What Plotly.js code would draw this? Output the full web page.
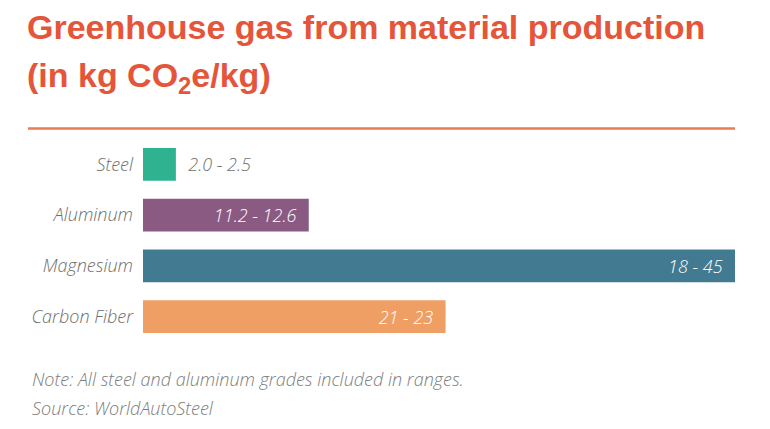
<!DOCTYPE html>
<html>
<head>
<meta charset="utf-8">
<script src="https://cdn.plot.ly/plotly-3.0.1.min.js"></script>
<style>html,body{margin:0;padding:0;background:#fff;}#chart{width:770px;height:429px;}</style>
</head>
<body>
<div id="chart"></div>
<script>
// Data
var materials = ["Steel", "Aluminum", "Magnesium", "Carbon Fiber"];
var highValues = [2.5, 12.6, 45, 23];
var rangeLabels = ["2.0 - 2.5", "11.2 - 12.6", "18 - 45", "21 - 23"];
var barColors = ["#2fb290", "#8b5a83", "#427b91", "#ef9e64"];

var W = 770, H = 429;
var mL = 143, mR = 35, mT = 138.5, mB = 87;
var pw = W - mL - mR, ph = H - mT - mB;
function px(x){ return (x - mL) / pw; }
function py(y){ return (H - mB - y) / ph; }

var labelFont = "'Open Sans', Lato, sans-serif";
var titleFont = "'Liberation Sans Narrow', 'Liberation Sans', sans-serif";

var trace = {
  type: "bar",
  orientation: "h",
  y: materials,
  x: highValues,
  text: rangeLabels,
  texttemplate: ["  %{text}", "%{text}  ", "%{text}  ", "%{text}  "],
  textposition: ["outside", "inside", "inside", "inside"],
  insidetextanchor: "end",
  constraintext: "none",
  cliponaxis: false,
  textfont: {family: labelFont, size: 18, style: "italic", weight: 300,
    color: ["#707070", "#ffffff", "#ffffff", "#ffffff"]},
  marker: {color: barColors},
  hoverinfo: "none"
};

var layout = {
  width: W, height: H,
  margin: {l: mL, r: mR, t: mT, b: mB, pad: 0},
  paper_bgcolor: "#ffffff",
  plot_bgcolor: "#ffffff",
  showlegend: false,
  bargap: 0.353,
  xaxis: {range: [0, 45], visible: false, fixedrange: true},
  yaxis: {autorange: "reversed", showgrid: false, zeroline: false, showline: false,
    ticks: "", ticklabelstandoff: 9,
    tickfont: {family: labelFont, size: 18, style: "italic", weight: 300, color: "#6e6e6e"}},
  shapes: [{type: "line", xref: "paper", yref: "paper",
    x0: px(28), x1: px(735), y0: py(128), y1: py(128),
    line: {color: "#ea7b55", width: 2.5}}],
  annotations: [
    {xref: "paper", yref: "paper", x: px(25), y: py(26), xanchor: "left", yanchor: "middle",
     text: "Greenhouse gas from material production", showarrow: false,
     font: {family: titleFont, size: 34, weight: 700, color: "#e4553a"}},
    {xref: "paper", yref: "paper", x: px(25), y: py(77), xanchor: "left", yanchor: "middle",
     text: "(in kg CO<sub>2</sub>e/kg)", showarrow: false,
     font: {family: titleFont, size: 34, weight: 700, color: "#e4553a"}},
    {xref: "paper", yref: "paper", x: px(30), y: py(379), xanchor: "left", yanchor: "middle",
     text: "Note: All steel and aluminum grades included in ranges.", showarrow: false,
     font: {family: labelFont, size: 18, style: "italic", weight: 300, color: "#7c7c7c"}},
    {xref: "paper", yref: "paper", x: px(30), y: py(408), xanchor: "left", yanchor: "middle",
     text: "Source: WorldAutoSteel", showarrow: false,
     font: {family: labelFont, size: 18, style: "italic", weight: 300, color: "#7c7c7c"}}
  ]
};

Plotly.newPlot("chart", [trace], layout, {displayModeBar: false, staticPlot: true});
</script>
</body>
</html>
